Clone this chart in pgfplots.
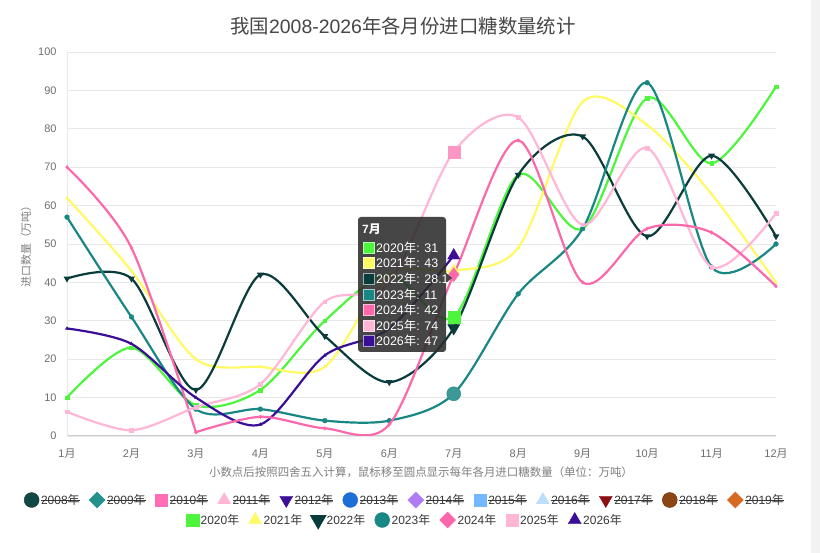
\documentclass[border=0pt]{standalone}
\usepackage{pgfplots}
\pgfplotsset{compat=1.18}
\usepackage{fontspec}
\setmainfont{Liberation Sans}
\newfontfamily\cjk{Noto Sans CJK SC}
\newsavebox\soutbox
\newcommand\sout[1]{\sbox\soutbox{#1}\rlap{\usebox\soutbox}\rule[0.32em]{\wd\soutbox}{0.7pt}}
\newcommand\yue{{\cjk 月}}
\newcommand\nian{{\cjk 年}}
\definecolor{c2020}{RGB}{77,245,60}
\definecolor{c2021}{RGB}{255,250,100}
\definecolor{c2022}{RGB}{10,60,60}
\definecolor{c2023}{RGB}{25,135,132}
\definecolor{c2024}{RGB}{252,104,172}
\definecolor{c2025}{RGB}{255,182,215}
\definecolor{c2025e}{RGB}{252,150,196}
\definecolor{c2026}{RGB}{58,14,150}
\definecolor{c2008}{RGB}{16,72,72}
\definecolor{c2009}{RGB}{35,145,140}
\definecolor{c2010}{RGB}{255,110,180}
\definecolor{c2011}{RGB}{255,182,215}
\definecolor{c2012}{RGB}{60,15,150}
\definecolor{c2013}{RGB}{30,110,215}
\definecolor{c2014}{RGB}{176,124,245}
\definecolor{c2015}{RGB}{116,185,255}
\definecolor{c2016}{RGB}{190,222,255}
\definecolor{c2017}{RGB}{140,15,20}
\definecolor{c2018}{RGB}{140,70,20}
\definecolor{c2019}{RGB}{215,105,35}
\definecolor{gridc}{RGB}{232,232,232}
\definecolor{axisc}{RGB}{205,205,205}
\definecolor{tickc}{RGB}{110,110,110}
\definecolor{legc}{RGB}{55,55,55}
\definecolor{ttbg}{RGB}{45,45,45}
\pgfplotsset{
  ser/.style={color=#1, line width=2.2bp, smooth, tension=0.5,
    mark options={solid, fill=#1, draw=#1, line width=0.4bp}, mark size=1.8bp},
  legimg/.style={legend image code/.code={\draw[##1, mark size=6.8bp] plot coordinates {(0.25cm,0cm)};}},
  legsty/.style={legend columns=-1, legend cell align=left,
    legend style={draw=none, fill=none, font=\fontsize{12}{14}\selectfont\color{legc},
      /tikz/every even column/.append style={column sep=7.5bp}}},
  ltri/.style={legend image post style={/tikz/every mark/.append style={scale=1.1}}},
  lsq/.style={legend image post style={/tikz/every mark/.append style={scale=0.92}}},
  ldia/.style={legend image post style={mark=square*, /tikz/every mark/.append style={rotate=45, scale=0.83}}},
  lcirc/.style={legend image post style={/tikz/every mark/.append style={scale=1.1}}},
}
\begin{document}
\begin{tikzpicture}
\useasboundingbox (0,0) rectangle (820bp,553bp);
\fill[white] (0,0) rectangle (820bp,553bp);
\fill[black!5] (811bp,0) rectangle (820bp,553bp);
% hidden-series legend (row 1)
\begin{axis}[at={(67bp,117bp)}, anchor=south west, scale only axis,
  width=709bp, height=384bp, hide axis, xmin=0, xmax=1, ymin=0, ymax=1,
  legimg, legsty, legend style={at={(0.4767,-0.1667)}, anchor=center}]
\addplot[draw=none, forget plot] coordinates {(0,0)};
\addlegendimage{only marks, mark=*, mark options={fill=c2008, draw=black!80, scale=1.1}}
\addlegendentry{\sout{2008\nian}}
\addlegendimage{only marks, mark=square*, mark options={fill=c2009, draw=c2009, rotate=45, scale=0.83}}
\addlegendentry{\sout{2009\nian}}
\addlegendimage{only marks, mark=square*, mark options={fill=c2010, draw=c2010, scale=0.92}}
\addlegendentry{\sout{2010\nian}}
\addlegendimage{only marks, mark=triangle*, mark options={fill=c2011, draw=c2011, scale=1.1}}
\addlegendentry{\sout{2011\nian}}
\addlegendimage{only marks, mark=triangle*, mark options={fill=c2012, draw=c2012, rotate=180, scale=1.1}}
\addlegendentry{\sout{2012\nian}}
\addlegendimage{only marks, mark=*, mark options={fill=c2013, draw=c2013, scale=1.1}}
\addlegendentry{\sout{2013\nian}}
\addlegendimage{only marks, mark=square*, mark options={fill=c2014, draw=c2014, rotate=45, scale=0.83}}
\addlegendentry{\sout{2014\nian}}
\addlegendimage{only marks, mark=square*, mark options={fill=c2015, draw=c2015, scale=0.92}}
\addlegendentry{\sout{2015\nian}}
\addlegendimage{only marks, mark=triangle*, mark options={fill=c2016, draw=c2016, scale=1.1}}
\addlegendentry{\sout{2016\nian}}
\addlegendimage{only marks, mark=triangle*, mark options={fill=c2017, draw=c2017, rotate=180, scale=1.1}}
\addlegendentry{\sout{2017\nian}}
\addlegendimage{only marks, mark=*, mark options={fill=c2018, draw=c2018!70!black, scale=1.1}}
\addlegendentry{\sout{2018\nian}}
\addlegendimage{only marks, mark=square*, mark options={fill=c2019, draw=c2019, rotate=45, scale=0.83}}
\addlegendentry{\sout{2019\nian}}
\end{axis}
% main axis
\begin{axis}[at={(67bp,117bp)}, anchor=south west, scale only axis,
  width=709bp, height=384bp,
  xmin=1, xmax=12, ymin=0, ymax=100,
  xtick={1,...,12},
  xticklabels={1\yue,2\yue,3\yue,4\yue,5\yue,6\yue,7\yue,8\yue,9\yue,10\yue,11\yue,12\yue},
  ytick={0,10,...,100},
  ymajorgrids, grid style={draw=gridc, line width=0.8bp},
  axis x line*=bottom, axis y line*=left,
  x axis line style={draw=axisc, line width=1bp, -},
  y axis line style={draw=gridc, line width=0.8bp, -},
  major tick length=0pt,
  tick label style={font=\fontsize{11}{13}\selectfont, text=tickc},
  /pgf/number format/assume math mode=true,
  xticklabel style={yshift=-9bp},
  yticklabel style={xshift=-7bp},
  clip mode=individual,
  legimg, legsty, legend style={at={(0.4767,-0.21875)}, anchor=center},
]
\addplot[ser=c2020, mark=square*, lsq] coordinates {(1,10)(2,23)(3,8)(4,12)(5,30)(6,42)(7,31)(8,68)(9,54)(10,88)(11,71)(12,91)};
\addlegendentry{2020\nian}
\addplot[ser=c2021, mark=triangle*, ltri] coordinates {(1,62)(2,43)(3,20)(4,18)(5,18)(6,42)(7,43)(8,49)(9,87)(10,81)(11,63)(12,40)};
\addlegendentry{2021\nian}
\addplot[ser=c2022, mark=triangle*, mark options={rotate=180}, ltri] coordinates {(1,41)(2,41)(3,12)(4,42)(5,26)(6,14)(7,28.1)(8,68)(9,78)(10,52)(11,73)(12,52)};
\addlegendentry{2022\nian}
\addplot[ser=c2023, mark=*, mark size=2.4bp, lcirc] coordinates {(1,57)(2,31)(3,7)(4,7)(5,4)(6,4)(7,11)(8,37)(9,54)(10,92)(11,44)(12,50)};
\addlegendentry{2023\nian}
\addplot[ser=c2024, mark=diamond*, ldia] coordinates {(1,70)(2,49)(3,1)};
\addlegendentry{2024\nian}
\addplot[ser=c2025, mark=square*, lsq] coordinates {(1,6.3)(2,1.5)(3,7.5)(4,13.5)(5,35)(6,40)(7,74)(8,83)(9,55)(10,75)(11,44)(12,58)};
\addlegendentry{2025\nian}
\addplot[ser=c2026, mark=triangle*, ltri] coordinates {(1,28)(2,24)(3,10)(4,3)(5,21)(6,28)(7,47)};
\addlegendentry{2026\nian}
\addplot[ser=c2024, mark=diamond*, forget plot] coordinates {(3,1)(4,5)(5,2)(6,3)(7,42)(8,77)(9,40)(10,54)(11,53)(12,39)};
% emphasised July points
\addplot[forget plot, only marks, mark=square*, mark size=6bp, mark options={fill=c2020, draw=c2020}] coordinates {(7,31)};
\addplot[forget plot, only marks, mark=triangle*, mark size=7bp, mark options={fill=c2021, draw=c2021}] coordinates {(7,43)};
\addplot[forget plot, only marks, mark=triangle*, mark size=7bp, mark options={fill=c2022, draw=c2022, rotate=180}] coordinates {(7,28.1)};
\addplot[forget plot, only marks, mark=*, mark size=7bp, mark options={fill=c2023!85!white, draw=c2023}] coordinates {(7,11)};
\addplot[forget plot, only marks, mark=diamond*, mark size=7bp, mark options={fill=c2024, draw=c2024}] coordinates {(7,42)};
\addplot[forget plot, only marks, mark=square*, mark size=6bp, mark options={fill=c2025e, draw=c2025e}] coordinates {(7,74)};
\addplot[forget plot, only marks, mark=triangle*, mark size=7bp, mark options={fill=c2026, draw=c2026}] coordinates {(7,47)};
\end{axis}
% titles
\node[text=black!72, font=\fontsize{19.5}{22}\selectfont] at (403bp,527bp) {{\cjk 我国}2008-2026{\cjk 年各月份进口糖数量统计}};
\node[text=black!50, rotate=90, font=\fontsize{11}{13}\selectfont\cjk] at (26bp,309bp) {进口数量（万吨）};
\node[text=black!50, font=\fontsize{11.5}{13}\selectfont\cjk] at (421bp,81bp) {小数点后按照四舍五入计算，鼠标移至圆点显示每年各月进口糖数量（单位：万吨）};
% tooltip
\fill[ttbg, fill opacity=0.88, rounded corners=3bp] (358bp,201bp) rectangle (446bp,336bp);
\fill[ttbg, fill opacity=0.88] (446bp,270bp) -- (452bp,275bp) -- (446bp,280bp) -- cycle;
\node[anchor=west, text=white, inner sep=0pt, font=\fontsize{12}{14}\selectfont\bfseries] at (362bp,324bp) {7{\cjk 月}};
\foreach \yy/\cc/\tt in {305/c2020/{2020\nian: 31}, 290/c2021/{2021\nian: 43}, 274/c2022/{2022\nian: 28.1}, 258/c2023/{2023\nian: 11}, 243/c2024/{2024\nian: 42}, 227/c2025/{2025\nian: 74}, 212/c2026/{2026\nian: 47}}{
  \filldraw[fill=\cc, draw=white!60!\cc, line width=0.8bp] (363bp,\yy bp-5.5bp) rectangle (374bp,\yy bp+5.5bp);
  \node[anchor=west, text=white, inner sep=0pt, font=\fontsize{12.5}{14}\selectfont] at (376bp,\yy bp) {\tt};
}
\end{tikzpicture}
\end{document}
